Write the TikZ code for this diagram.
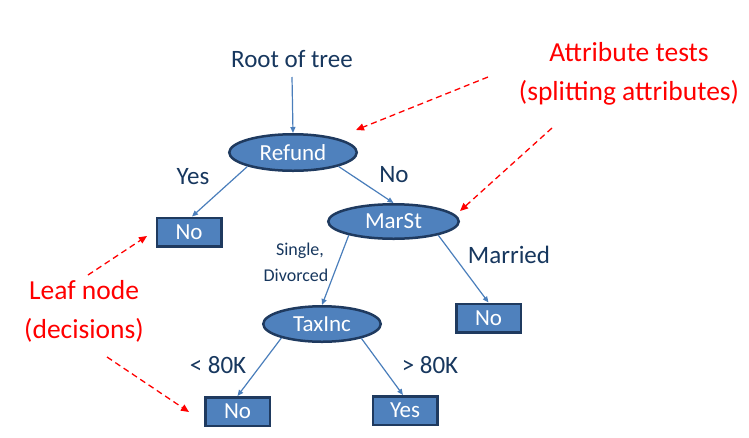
\documentclass[tikz,border=0pt]{standalone}
\usepackage{fontspec}
\setmainfont{Carlito}
\usetikzlibrary{shapes.geometric,arrows.meta}
\definecolor{nodefill}{HTML}{4F81BD}
\definecolor{nodeline}{HTML}{1F3A5F}
\definecolor{edgecol}{HTML}{4A7EBB}
\definecolor{labcol}{HTML}{17375E}
\definecolor{redcol}{HTML}{FF0000}
\begin{document}
\begin{tikzpicture}[x=1pt,y=-1pt,
  testnode/.style={ellipse, draw=nodeline, fill=nodefill, line width=2.5pt, inner sep=0pt,
    text=white, font=\fontsize{23}{27}\selectfont},
  leafnode/.style={rectangle, draw=nodeline, fill=nodefill, line width=2.5pt, inner sep=0pt,
    text=white, font=\fontsize{23}{27}\selectfont, minimum width=64.5pt, minimum height=28.5pt},
  lab/.style={text=labcol, font=\fontsize{25}{29}\selectfont, anchor=base, inner sep=0pt},
  smalllab/.style={text=labcol, font=\fontsize{18}{22}\selectfont, anchor=base, inner sep=0pt},
  note/.style={text=redcol, font=\fontsize{27.5}{32}\selectfont, anchor=base, inner sep=0pt},
  treeedge/.style={draw=edgecol, line width=1.2pt, -{Triangle[length=6pt,width=5pt]}},
  hint/.style={draw=redcol, line width=1.3pt, dash pattern=on 6pt off 4pt,
    -{Triangle[length=8pt,width=7pt]}}
]
\useasboundingbox (0,0) rectangle (749,437);

% tree nodes
\node[testnode, minimum width=127.5pt, minimum height=36.5pt] (refund) at (293,152.5) {Refund};
\node[testnode, minimum width=130.5pt, minimum height=34.5pt] (marst) at (393.5,221.5) {MarSt};
\node[testnode, minimum width=117.5pt, minimum height=35.5pt] (taxinc) at (322,324) {TaxInc};
\node[leafnode] (no1) at (189,232) {No};
\node[leafnode] (no2) at (488.5,318) {No};
\node[leafnode] (no3) at (237.5,411.5) {No};
\node[leafnode] (yes) at (405,410.5) {Yes};

% labels
\node[lab] (root) at (292,67) {Root of tree};
\node[lab] (lyes) at (193,184) {Yes};
\node[lab] (lno) at (394,182) {No};
\node[smalllab] (lsingle) at (300,255) {Single,};
\node[smalllab] (ldiv) at (296,281) {Divorced};
\node[lab] (lmar) at (509,263) {Married};
\node[lab] (llt) at (218,373) {< 80K};
\node[lab] (lgt) at (430,373) {> 80K};

% notes
\node[note] (attr1) at (629,61.7) {Attribute tests};
\node[note] (attr2) at (629,100) {(splitting attributes)};
\node[note] (leaf1) at (84,299) {Leaf node};
\node[note] (leaf2) at (84,338) {(decisions)};

% tree edges
\coordinate (rootfoot) at (292,77);
\draw[treeedge] (rootfoot) -- (refund.north);
\draw[treeedge] (refund.197) -- ([xshift=3pt]no1.north);
\draw[treeedge] (refund.-17) -- (marst.north);
\draw[treeedge] (marst.197) -- (taxinc.north);
\draw[treeedge] (marst.-17) -- (no2.north);
\draw[treeedge] (taxinc.199) -- (no3.north);
\draw[treeedge] (taxinc.-20) -- ([xshift=-2pt]yes.north);

% hint arrows
\coordinate (h1s) at (488,77);
\coordinate (h1e) at (356,130);
\coordinate (h2s) at (552,128);
\coordinate (h2e) at (460,211);
\coordinate (h3s) at (88,275);
\coordinate (h3e) at (147,236);
\coordinate (h4s) at (107,357);
\coordinate (h4e) at (189,412);
\draw[hint] (h1s) -- (h1e);
\draw[hint] (h2s) -- (h2e);
\draw[hint] (h3s) -- (h3e);
\draw[hint] (h4s) -- (h4e);
\end{tikzpicture}
\end{document}
